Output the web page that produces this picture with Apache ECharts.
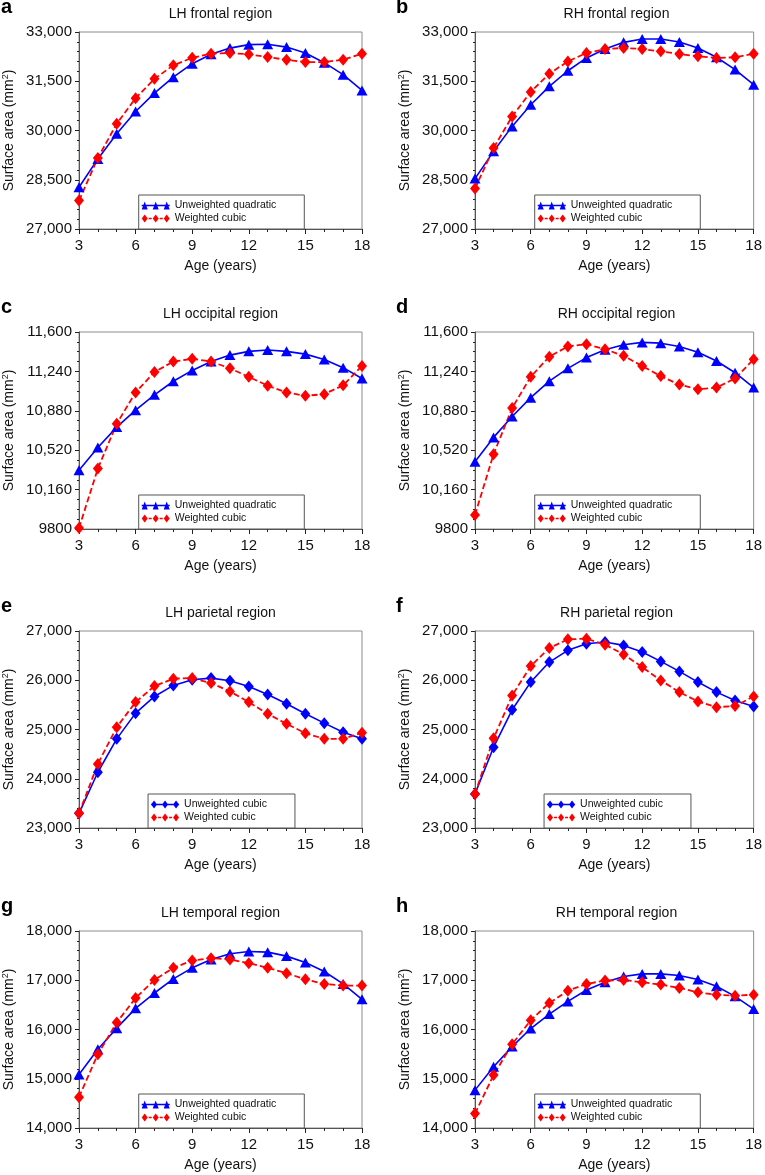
<!DOCTYPE html>
<html>
<head>
<meta charset="utf-8">
<script src="https://cdn.jsdelivr.net/npm/echarts@6/dist/echarts.min.js"></script>
<style>
html, body { margin: 0; background: #fff; }
#chart { width: 765px; height: 1175px; }
</style>
</head>
<body>
<div id="chart"></div>
<script>
// ages on the x axis
const ages = [3, 4, 5, 6, 7, 8, 9, 10, 11, 12, 13, 14, 15, 16, 17, 18]
const xTicks = { min: 3, max: 18, step: 3 }

// surface area (mm²)
const lhFrontalUnw = [28270, 29135, 29900, 30580, 31140, 31625, 32035, 32320, 32510, 32615, 32625, 32540, 32360, 32065, 31700, 31220]
const lhFrontalW = [27865, 29165, 30205, 30985, 31575, 31985, 32215, 32340, 32360, 32320, 32235, 32155, 32085, 32085, 32155, 32340]
const rhFrontalUnw = [28535, 29365, 30125, 30785, 31345, 31820, 32210, 32480, 32685, 32785, 32785, 32695, 32515, 32230, 31855, 31395]
const rhFrontalW = [28230, 29465, 30430, 31175, 31730, 32105, 32360, 32480, 32515, 32480, 32410, 32330, 32260, 32210, 32230, 32340]
const lhOccipitalUnw = [10337, 10545, 10731, 10886, 11026, 11150, 11249, 11330, 11389, 11423, 11436, 11423, 11398, 11349, 11274, 11175]
const lhOccipitalW = [9809, 10352, 10762, 11048, 11234, 11330, 11355, 11330, 11268, 11190, 11110, 11048, 11017, 11032, 11113, 11290]
const rhOccipitalUnw = [10415, 10637, 10828, 11000, 11151, 11268, 11366, 11437, 11483, 11505, 11498, 11468, 11415, 11335, 11228, 11092]
const rhOccipitalW = [9929, 10483, 10905, 11191, 11375, 11468, 11489, 11443, 11382, 11289, 11197, 11120, 11077, 11092, 11175, 11351]
const lhParietalUnw = [23298, 24132, 24810, 25332, 25671, 25895, 26010, 26044, 25990, 25875, 25712, 25522, 25319, 25129, 24946, 24810]
const lhParietalW = [23298, 24302, 25047, 25556, 25881, 26031, 26044, 25942, 25773, 25556, 25319, 25115, 24925, 24810, 24810, 24932]
const rhParietalUnw = [23692, 24641, 25400, 25963, 26369, 26607, 26742, 26776, 26708, 26573, 26383, 26180, 25963, 25759, 25590, 25468]
const rhParietalW = [23692, 24820, 25692, 26288, 26654, 26831, 26844, 26722, 26525, 26268, 25997, 25759, 25569, 25454, 25475, 25671]
const lhTemporalUnw = [15088, 15599, 16027, 16429, 16741, 17027, 17252, 17422, 17537, 17585, 17571, 17490, 17361, 17177, 16925, 16612]
const lhTemporalW = [14626, 15497, 16143, 16639, 17007, 17252, 17401, 17449, 17422, 17347, 17252, 17143, 17020, 16925, 16891, 16891]
const rhTemporalUnw = [14769, 15245, 15653, 16020, 16313, 16571, 16803, 16959, 17075, 17129, 17129, 17095, 17014, 16878, 16673, 16415]
const rhTemporalW = [14293, 15075, 15701, 16190, 16537, 16789, 16925, 16993, 17007, 16959, 16912, 16844, 16755, 16707, 16687, 16707]

const panels = [
  { letter: 'a', title: 'LH frontal region', fit: 'Unweighted quadratic', unw: lhFrontalUnw, w: lhFrontalW, yMin: 27000, yMax: 33000, yStep: 1500, minor: 5 },
  { letter: 'b', title: 'RH frontal region', fit: 'Unweighted quadratic', unw: rhFrontalUnw, w: rhFrontalW, yMin: 27000, yMax: 33000, yStep: 1500, minor: 5 },
  { letter: 'c', title: 'LH occipital region', fit: 'Unweighted quadratic', unw: lhOccipitalUnw, w: lhOccipitalW, yMin: 9800, yMax: 11600, yStep: 360, minor: 4 },
  { letter: 'd', title: 'RH occipital region', fit: 'Unweighted quadratic', unw: rhOccipitalUnw, w: rhOccipitalW, yMin: 9800, yMax: 11600, yStep: 360, minor: 4 },
  { letter: 'e', title: 'LH parietal region', fit: 'Unweighted cubic', unw: lhParietalUnw, w: lhParietalW, yMin: 23000, yMax: 27000, yStep: 1000, minor: 5 },
  { letter: 'f', title: 'RH parietal region', fit: 'Unweighted cubic', unw: rhParietalUnw, w: rhParietalW, yMin: 23000, yMax: 27000, yStep: 1000, minor: 5 },
  { letter: 'g', title: 'LH temporal region', fit: 'Unweighted quadratic', unw: lhTemporalUnw, w: lhTemporalW, yMin: 14000, yMax: 18000, yStep: 1000, minor: 5 },
  { letter: 'h', title: 'RH temporal region', fit: 'Unweighted quadratic', unw: rhTemporalUnw, w: rhTemporalW, yMin: 14000, yMax: 18000, yStep: 1000, minor: 5 },
]
const weightedName = 'Weighted cubic'

const FONT = '"Liberation Sans", Arial, Helvetica, sans-serif'
const BLUE = '#0000ff'
const RED = '#ff0000'
const colLeft = [79, 475]
const rowTop = [32, 332, 631, 931]
const gridW = 283
const gridH = 197

// legend icons: line with three markers
const triIcon = 'path://M0,4.3H28V5.7H0Z M0,9L3,1L6,9Z M11,9L14,1L17,9Z M22,9L25,1L28,9Z'
const diaIcon = 'path://M0,4.3H28V5.7H0Z M0,5L3,1L6,5L3,9Z M11,5L14,1L17,5L14,9Z M22,5L25,1L28,5L25,9Z'
const dashIcon = 'path://M7,4.3H10V5.7H7Z M18,4.3H21V5.7H18Z M0,5L3,1L6,5L3,9Z M11,5L14,1L17,5L14,9Z M22,5L25,1L28,5L25,9Z'

const ctx = document.createElement('canvas').getContext('2d')
ctx.font = '10.5px ' + FONT
const textW = s => ctx.measureText(s).width

const fmt = v => v >= 10000 ? v.toLocaleString('en-US') : String(v)

const grid = [], xAxis = [], yAxis = [], series = [], title = [], legend = []

panels.forEach((p, i) => {
  const left = colLeft[i % 2]
  const top = rowTop[Math.floor(i / 2)]
  const quad = p.fit.includes('quadratic')

  grid.push({ left, top, width: gridW, height: gridH, show: true, borderColor: '#8c8c8c', borderWidth: 1 })

  xAxis.push({
    gridIndex: i, type: 'value', min: xTicks.min, max: xTicks.max, interval: xTicks.step,
    axisLine: { lineStyle: { color: '#555', width: 1 } },
    axisTick: { length: 5, lineStyle: { color: '#222' } },
    minorTick: { show: true, splitNumber: 3, length: 3, lineStyle: { color: '#222' } },
    splitLine: { show: false },
    axisLabel: { fontSize: 15, color: '#111', fontFamily: FONT, margin: 9 },
    name: 'Age (years)', nameLocation: 'middle', nameGap: 30,
    nameTextStyle: { fontSize: 14, color: '#111', fontFamily: FONT },
  })

  yAxis.push({
    gridIndex: i, type: 'value', min: p.yMin, max: p.yMax, interval: p.yStep,
    axisLine: { show: true, lineStyle: { color: '#555', width: 1 } },
    axisTick: { show: true, length: 4, lineStyle: { color: '#222' } },
    minorTick: { show: true, splitNumber: p.minor, length: 2, lineStyle: { color: '#222' } },
    splitLine: { show: false },
    axisLabel: { fontSize: 15, color: '#111', fontFamily: FONT, margin: 7, formatter: fmt },
    name: 'Surface area (mm{sup|2})', nameLocation: 'middle', nameGap: 62,
    nameTextStyle: {
      fontSize: 14, color: '#111', fontFamily: FONT,
      rich: { sup: { fontSize: 9, color: '#111', fontFamily: FONT, verticalAlign: 'top', padding: [0, 0, 7, 0] } },
    },
  })

  series.push({
    name: p.fit, type: 'line', xAxisIndex: i, yAxisIndex: i,
    data: ages.map((a, k) => [a, p.unw[k]]),
    symbol: quad ? 'triangle' : 'diamond',
    symbolSize: quad ? [11, 10] : [10, 12],
    lineStyle: { color: BLUE, width: 1.6 },
    itemStyle: { color: BLUE },
    clip: false, animation: false,
  })
  series.push({
    name: weightedName, type: 'line', xAxisIndex: i, yAxisIndex: i,
    data: ages.map((a, k) => [a, p.w[k]]),
    symbol: 'diamond', symbolSize: [10, 12],
    lineStyle: { color: RED, width: 1.8, type: [6, 3] },
    itemStyle: { color: RED },
    clip: false, animation: false,
  })

  title.push({
    text: p.title, left: left + gridW / 2, top: top - 25, textAlign: 'center', padding: 0,
    textStyle: { fontSize: 14, fontWeight: 'normal', color: '#111', fontFamily: FONT },
  })
  title.push({
    text: p.letter, left: i % 2 ? 396 : 1, top: top - 35, padding: 0,
    textStyle: { fontSize: 20, fontWeight: 'bold', color: '#000', fontFamily: FONT },
  })

  const legW = 3 + 28 + 5 + Math.max(textW(p.fit), textW(weightedName)) + 28
  legend.push({
    orient: 'vertical',
    left: left + gridW / 2 + 1 - legW / 2,
    top: top + gridH - 34,
    padding: [5, 28, 5, 3], itemGap: 2, itemWidth: 28, itemHeight: 9,
    backgroundColor: '#fff', borderColor: '#555', borderWidth: 1,
    selectedMode: false,
    itemStyle: { borderWidth: 0 },
    textStyle: { fontSize: 10.5, color: '#111', fontFamily: FONT },
    data: [
      { name: p.fit, icon: quad ? triIcon : diaIcon },
      { name: weightedName, icon: dashIcon },
    ],
  })
})

const chart = echarts.init(document.getElementById('chart'), null, { renderer: 'canvas' })
chart.setOption({
  backgroundColor: '#fff',
  animation: false,
  title, legend, grid, xAxis, yAxis, series,
})
</script>
</body>
</html>
